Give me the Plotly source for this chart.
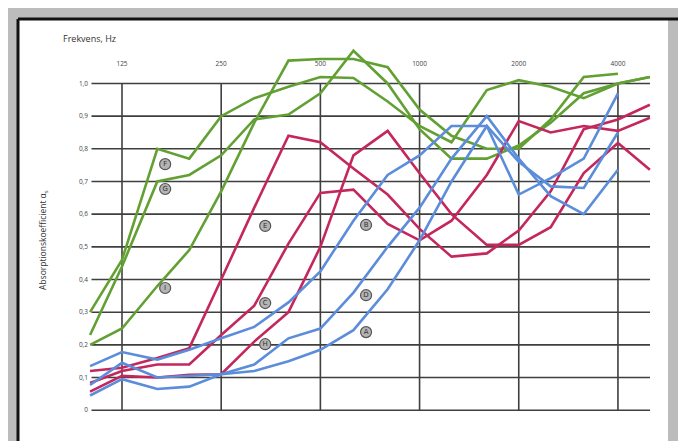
import plotly.graph_objects as go

# ---------------- data ----------------
freqs = [100, 125, 160, 200, 250, 315, 400, 500, 630, 800, 1000, 1250, 1600, 2000, 2500, 3150, 4000, 5000]

green_F = [0.30, 0.46, 0.80, 0.77, 0.90, 0.955, 0.99, 1.02, 1.017, 0.945, 0.87, 0.82, 0.98, 1.01, 0.99, 0.955, 1.00, 1.02]
green_G = [0.23, 0.44, 0.70, 0.72, 0.78, 0.89, 0.905, 0.97, 1.10, 1.00, 0.86, 0.77, 0.77, 0.81, 0.88, 0.97, 1.00, 1.02]
green_I = [0.20, 0.25, 0.38, 0.49, 0.67, 0.88, 1.07, 1.075, 1.075, 1.05, 0.92, 0.84, 0.80, 0.80, 0.89, 1.02, 1.03, None]

red_E = [0.12, 0.13, 0.16, 0.19, 0.40, 0.62, 0.84, 0.82, 0.74, 0.66, 0.555, 0.47, 0.48, 0.55, 0.67, 0.86, 0.89, 0.935]
red_C = [0.083, 0.12, 0.14, 0.14, 0.23, 0.32, 0.51, 0.665, 0.675, 0.57, 0.52, 0.58, 0.72, 0.885, 0.85, 0.87, 0.855, 0.895]
red_H = [0.057, 0.105, 0.10, 0.108, 0.11, 0.21, 0.30, 0.50, 0.78, 0.855, 0.725, 0.60, 0.506, 0.506, 0.56, 0.726, 0.818, 0.736]

blue_B = [0.135, 0.178, 0.155, 0.185, 0.22, 0.255, 0.33, 0.425, 0.58, 0.72, 0.78, 0.87, 0.87, 0.66, 0.71, 0.77, 0.97, None]
blue_D = [0.077, 0.145, 0.10, 0.105, 0.11, 0.14, 0.22, 0.25, 0.36, 0.50, 0.62, 0.77, 0.90, 0.77, 0.655, 0.60, 0.736, None]
blue_A = [0.045, 0.095, 0.065, 0.072, 0.11, 0.12, 0.15, 0.185, 0.245, 0.37, 0.52, 0.70, 0.87, 0.76, 0.685, 0.68, 0.85, None]

octave_ticks = [125, 250, 500, 1000, 2000, 4000]
octave_labels = ["125", "250", "500", "1000", "2000", "4000"]

y_ticks = [0, 0.1, 0.2, 0.3, 0.4, 0.5, 0.6, 0.7, 0.8, 0.9, 1.0]
y_labels = ["0", "0,1", "0,2", "0,3", "0,4", "0,5", "0,6", "0,7", "0,8", "0,9", "1,0"]

label_letters = ["F", "G", "I", "E", "C", "H", "B", "D", "A"]
label_freq = [169, 169, 169, 340, 340, 340, 688, 688, 688]
label_val = [0.753, 0.677, 0.374, 0.564, 0.328, 0.202, 0.567, 0.352, 0.239]

# ---------------- styling ----------------
GREEN = "#62a033"
RED = "#c4275d"
BLUE = "#5b8ddb"
GRID = "#3f3f3f"

fig = go.Figure()

# horizontal grid lines (0 .. 1.0)
hx, hy = [], []
for v in y_ticks:
    hx += [101, 5005, None]
    hy += [v, v, None]
fig.add_trace(go.Scatter(x=hx, y=hy, mode="lines", line=dict(color=GRID, width=1.6),
                         hoverinfo="skip", showlegend=False))
# vertical grid lines at octave bands
vx, vy = [], []
for f in octave_ticks:
    vx += [f, f, None]
    vy += [0, 1.0, None]
fig.add_trace(go.Scatter(x=vx, y=vy, mode="lines", line=dict(color=GRID, width=1.6),
                         hoverinfo="skip", showlegend=False))

for series, col in [(green_F, GREEN), (green_G, GREEN), (green_I, GREEN),
                    (red_E, RED), (red_C, RED), (red_H, RED),
                    (blue_B, BLUE), (blue_D, BLUE), (blue_A, BLUE)]:
    fig.add_trace(go.Scatter(x=freqs, y=series, mode="lines",
                             line=dict(color=col, width=2.6),
                             connectgaps=False, showlegend=False))

# frequency labels above the grid
fig.add_trace(go.Scatter(x=octave_ticks, y=[1.057] * len(octave_ticks), mode="text",
                         text=octave_labels, textfont=dict(size=6.5, color="#444",
                                                           family="Open Sans"),
                         showlegend=False, hoverinfo="skip"))

# circled curve labels
fig.add_trace(go.Scatter(x=label_freq, y=label_val, mode="markers+text",
                         text=label_letters, textposition="middle center",
                         textfont=dict(size=7, color="#333", family="DejaVu Sans"),
                         marker=dict(size=11, color="#b4b4b4",
                                     line=dict(color="#555", width=1.2)),
                         showlegend=False, hoverinfo="skip"))

W, H = 686, 441
ML, MR, MT, MB = 81, 38, 33, 29
PW, PH = W - ML - MR, H - MT - MB


def px(p):
    return (p - ML) / PW


def py(p):
    return (H - MB - p) / PH


shapes = [
    dict(type="rect", xref="paper", yref="paper", x0=px(10), x1=px(660), y0=py(441), y1=py(11),
         fillcolor="white", line=dict(width=0), layer="below"),
    dict(type="line", xref="paper", yref="paper", x0=px(10), x1=px(686), y0=py(11), y1=py(11),
         line=dict(color="#111", width=3), layer="below"),
    dict(type="line", xref="paper", yref="paper", x0=px(10), x1=px(10), y0=py(11), y1=py(441),
         line=dict(color="#111", width=3), layer="below"),
]

annotations = [
    dict(text="Frekvens, Hz", xref="paper", yref="paper", x=px(53), y=py(30),
         xanchor="left", yanchor="middle", showarrow=False,
         font=dict(size=9, color="#333", family="Open Sans")),
    dict(text="Absorptionskoefficient α<sub>s</sub>", xref="paper", yref="paper",
         x=px(35), y=py(232), xanchor="center", yanchor="middle", textangle=-90,
         showarrow=False, font=dict(size=8.5, color="#333", family="Open Sans")),
]

fig.update_layout(
    width=W, height=H,
    margin=dict(l=ML, r=MR, t=MT, b=MB, pad=0),
    paper_bgcolor="#bcbcbc",
    plot_bgcolor="rgba(0,0,0,0)",
    shapes=shapes,
    annotations=annotations,
    xaxis=dict(type="log", range=[1.99676, 3.71754], showgrid=False, zeroline=False,
               showticklabels=False, ticks="", showline=False),
    yaxis=dict(range=[-0.03, 1.13], tickvals=y_ticks, ticktext=y_labels,
               showgrid=False, zeroline=False, ticks="", showline=False,
               tickfont=dict(size=6.5, color="#444", family="Open Sans")),
)

fig.write_html("out.html")
